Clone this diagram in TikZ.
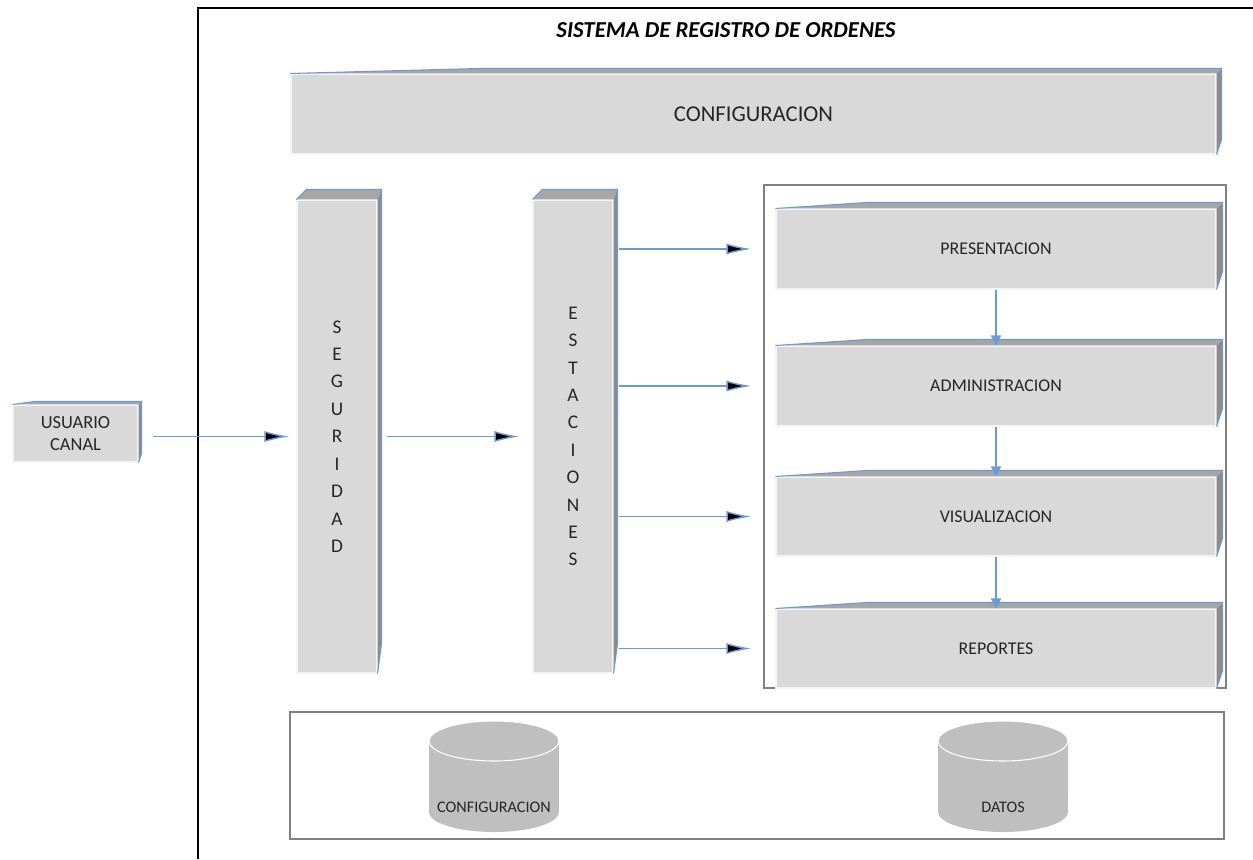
\documentclass[tikz,border=0pt]{standalone}
\usepackage{fontspec}
\setmainfont{Carlito}
\usetikzlibrary{arrows.meta}

\definecolor{frente}{HTML}{D9D9D9}
\definecolor{tapa}{HTML}{A6A6A6}
\definecolor{lado}{HTML}{8C8C8C}
\definecolor{azul}{HTML}{6A9BD6}
\definecolor{texto}{HTML}{262626}
\definecolor{cilindro}{HTML}{BFBFBF}

\def\px{0.02cm}

\tikzset{
  caja/.style={fill=frente, draw=white!92!gray, line width=0.6pt, text=texto, inner sep=0pt,
    font=\fontsize{10.2}{12}\selectfont},
  flecha/.style={azul, line width=0.8pt, -{Latex[length=0.5cm,width=0.22cm,fill=black]}},
  bajada/.style={azul, line width=0.8pt, -{Triangle[length=0.2cm,width=0.2cm]}},
  marco/.style={draw=gray, line width=0.7pt},
}

% Caras de la caja: nombre, avance de la tapa, fondo x, fondo y
\newcommand{\caras}[4]{%
  \fill[tapa] (#1.north west) -- ++(#2,-#4) -- ([shift={(#3,-#4)}]#1.north east)
    -- (#1.north east) -- cycle;
  \fill[lado] (#1.north east) -- ([shift={(#3,-#4)}]#1.north east)
    -- ([shift={(#3,-3*#4)}]#1.south east) -- (#1.south east) -- cycle;
  \draw[azul, line width=0.6pt] (#1.north west) -- ++(#2,-#4)
    -- ([shift={(#3,-#4)}]#1.north east) -- ([shift={(#3,-3*#4)}]#1.south east)
    -- (#1.south east);
}

% Cilindro: centro de la tapa (x,y)
\newcommand{\cilindro}[2]{%
  \fill[cilindro] (#1-65,#2) -- (#1-65,#2+71)
    arc[start angle=180, end angle=360, x radius=1.3cm, y radius=0.4cm]
    -- (#1+65,#2) arc[start angle=0, end angle=180, x radius=1.3cm, y radius=0.4cm] -- cycle;
  \draw[white, line width=0.6pt, fill=cilindro] (#1,#2) ellipse [x radius=1.3cm, y radius=0.4cm];
}

\begin{document}
\begin{tikzpicture}[x=0.02cm, y=-0.02cm]
  \useasboundingbox (0,0) rectangle (1253,859);

  % Marco del sistema
  \draw[black, line width=0.8pt] (198,859) -- (198,8) -- (1253,8);
  \node[font=\bfseries\itshape\fontsize{13}{15}\selectfont] (titulo) at (726,30)
    {SISTEMA DE REGISTRO DE ORDENES};

  % Marcos internos
  \draw[marco] (764,185) rectangle (1226,688);
  \draw[marco] (290,712) rectangle (1224,839);

  % Cajas
  \node[caja, minimum width=925*\px, minimum height=80*\px, font=\fontsize{12.9}{15}\selectfont]
    (config) at (753.5,114) {CONFIGURACION};
  \caras{config}{189}{5}{5}

  \node[caja, minimum width=125*\px, minimum height=57*\px, align=center,
    font=\fontsize{10.5}{12.5}\selectfont] (usuario) at (75.5,433.5) {USUARIO\\CANAL};
  \caras{usuario}{22}{3}{3}

  \node[caja, minimum width=80*\px, minimum height=473*\px, align=center,
    font=\fontsize{11}{15.6}\selectfont] (seguridad) at (337,436.5)
    {S\\E\\G\\U\\R\\I\\D\\A\\D};
  \caras{seguridad}{10}{4}{10}

  \node[caja, minimum width=80*\px, minimum height=473*\px, align=center,
    font=\fontsize{11}{15.6}\selectfont] (estaciones) at (573,436.5)
    {E\\S\\T\\A\\C\\I\\O\\N\\E\\S};
  \caras{estaciones}{10}{4}{10}

  \node[caja, minimum width=440*\px, minimum height=80*\px] (presentacion) at (996,249) {PRESENTACION};
  \caras{presentacion}{92}{6}{6}
  \node[caja, minimum width=440*\px, minimum height=80*\px] (administracion) at (996,386) {ADMINISTRACION};
  \caras{administracion}{92}{6}{6}
  \node[caja, minimum width=440*\px, minimum height=79*\px] (visualizacion) at (996,516.5) {VISUALIZACION};
  \caras{visualizacion}{92}{6}{6}
  \node[caja, minimum width=440*\px, minimum height=79*\px] (reportes) at (996,648.5) {REPORTES};
  \caras{reportes}{92}{6}{6}

  % Flechas
  \draw[flecha, shorten <=14*\px, shorten >=7*\px] (usuario.east |- seguridad.west) -- (seguridad.west);
  \draw[flecha, shorten <=9*\px, shorten >=13*\px] (seguridad.east) -- (estaciones.west);
  \foreach \destino in {presentacion, administracion, visualizacion, reportes}
    \draw[flecha, shorten <=5*\px, shorten >=24*\px] (estaciones.east |- \destino.west) -- (\destino.west);

  \draw[bajada] (presentacion.south) -- (administracion.north);
  \draw[bajada] (administracion.south) -- (visualizacion.north);
  \draw[bajada] (visualizacion.south) -- (reportes.north);

  % Bases de datos
  \cilindro{494}{741}
  \cilindro{1003}{741}
  \node[text=texto, font=\fontsize{9.2}{11}\selectfont] (bdconfig) at (494,807) {CONFIGURACION};
  \node[text=texto, font=\fontsize{9.2}{11}\selectfont] (bddatos) at (1003,807) {DATOS};
\end{tikzpicture}
\end{document}
